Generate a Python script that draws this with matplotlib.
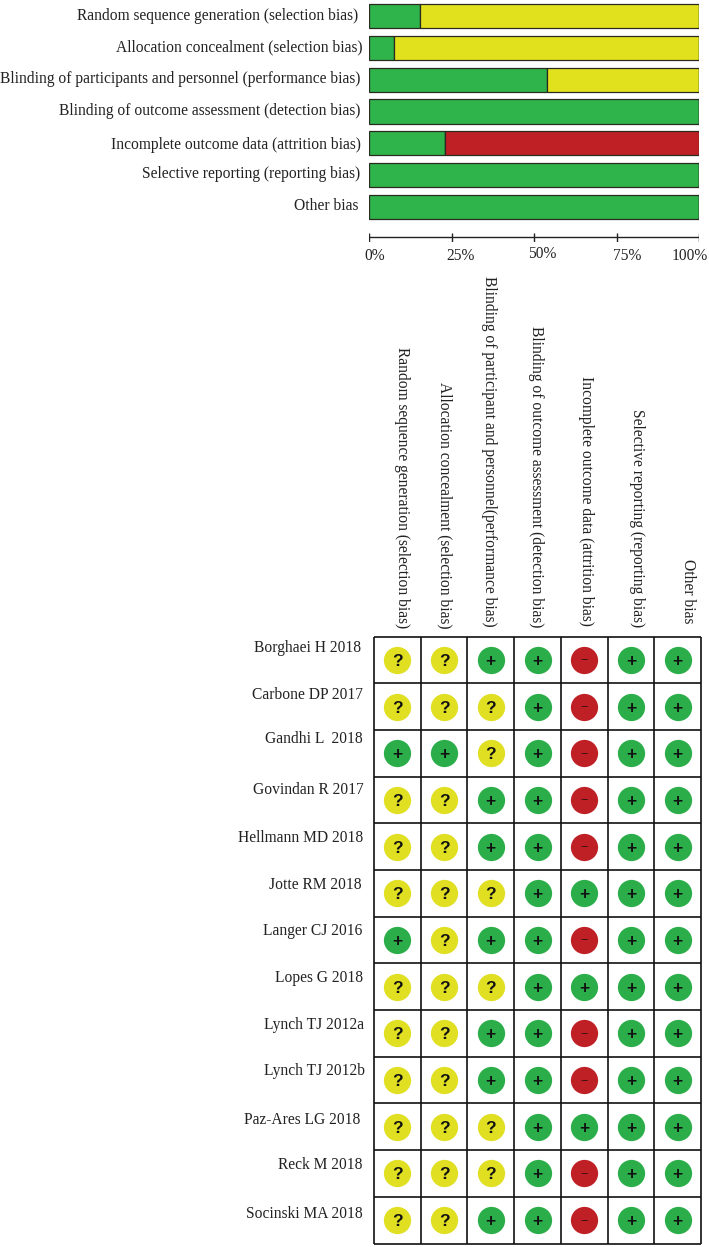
import matplotlib
matplotlib.use("Agg")
import matplotlib.pyplot as plt
from matplotlib.transforms import Affine2D

W, H = 709, 1247
plt.rcParams['font.family'] = ['Liberation Serif', 'DejaVu Serif']

domains = ["Random sequence generation (selection bias)",
           "Allocation concealment (selection bias)",
           "Blinding of participants and personnel (performance bias)",
           "Blinding of outcome assessment (detection bias)",
           "Incomplete outcome data (attrition bias)",
           "Selective reporting (reporting bias)",
           "Other bias"]
low_pct = [15.38, 7.69, 53.85, 100, 23.08, 100, 100]
unclear_pct = [84.62, 92.31, 46.15, 0, 0, 0, 0]
high_pct = [0, 0, 0, 0, 76.92, 0, 0]
tick_vals = [0, 25, 50, 75, 100]
tick_labels = ["0%", "25%", "50%", "75%", "100%"]

col_labels = ["Random sequence generation (selection bias)",
              "Allocation concealment (selection bias)",
              "Blinding of participant and personnel(performance bias)",
              "Blinding of outcome assessment (detection bias)",
              "Incomplete outcome data (attrition bias)",
              "Selective reporting (reporting bias)",
              "Other bias"]
studies = ["Borghaei H 2018", "Carbone DP 2017", "Gandhi L  2018", "Govindan R 2017",
           "Hellmann MD 2018", "Jotte RM 2018", "Langer CJ 2016", "Lopes G 2018",
           "Lynch TJ 2012a", "Lynch TJ 2012b", "Paz-Ares LG 2018", "Reck M 2018",
           "Socinski MA 2018"]
judgements = ["??++-++", "???+-++", "++?+-++", "??++-++", "??++-++", "???++++", "+?++-++",
              "???++++", "??++-++", "??++-++", "???++++", "???+-++", "??++-++"]

GREEN, YELLOW, RED = "#2FB34B", "#E1E11D", "#BE2025"
C_GREEN, C_YELLOW, C_RED = "#2BAE4A", "#E0DF22", "#BF2026"

# layout (pixels in the reference)
bar_label_right = [358, 362, 360, 360, 361, 360, 358]
bar_label_y = [16, 47, 79, 111, 145, 174, 206]
tick_label_x = [375, 461, 542, 627, 690]
tick_label_y = [256, 256, 254, 256, 256]
col_label_x = [403, 446, 490, 537, 587, 638, 689]
col_label_bottom = [628, 628, 627, 627, 626, 627, 623]
study_right = [361, 363, 363, 364, 363, 362, 362, 363, 364, 365, 360, 362, 363]
study_y = [648, 695, 739, 790, 838, 885, 931, 978, 1025, 1071, 1120, 1165, 1214]

fig = plt.figure(figsize=(W / 100, H / 100), dpi=100, facecolor="white")
px = Affine2D().scale(1, -1).translate(0, H)  # image pixels -> display

def axes_px(x0, y0, x1, y1):
    return fig.add_axes([x0 / W, 1 - y1 / H, (x1 - x0) / W, (y1 - y0) / H])

FS = 11.2

# ---- summary bars
ax = axes_px(369, 0, 699, 223)
ax.set_xlim(0, 100)
ax.set_ylim(6.5, -0.503)
ax.axis("off")
ypos = list(range(len(domains)))
edge = dict(edgecolor="#2a2a20", linewidth=0.9, height=0.76)
ax.barh(ypos, low_pct, color=GREEN, **edge)
ax.barh(ypos, unclear_pct, left=low_pct, color=YELLOW, **edge)
left_high = [a + b for a, b in zip(low_pct, unclear_pct)]
ax.barh(ypos, high_pct, left=left_high, color=RED, **edge)

# ---- percent axis
axx = axes_px(369, 232, 699, 242)
axx.set_xlim(0, 100)
axx.set_ylim(0, 1)
axx.axis("off")
axx.axhline(0.5, color="#222222", lw=1.0)
axx.vlines(tick_vals, 0.05, 0.95, color="#222222", lw=1.0)

for lab, x, y in zip(domains, bar_label_right, bar_label_y):
    fig.text(x, y, lab, transform=px, ha="right", va="center", fontsize=FS, color="#222222")
for lab, x, y in zip(tick_labels, tick_label_x, tick_label_y):
    fig.text(x, y, lab, transform=px, ha="center", va="center", fontsize=FS, color="#222222")

# ---- risk-of-bias matrix
axm = axes_px(374, 636.5, 701, 1243.5)
axm.set_xlim(0, len(col_labels))
axm.set_ylim(len(studies), 0)
axm.set_xticks([])
axm.set_yticks([])
axm.vlines(range(len(col_labels) + 1), 0, len(studies), color="#111111", lw=1.2, clip_on=False)
axm.hlines(range(len(studies) + 1), 0, len(col_labels), color="#111111", lw=1.2, clip_on=False)
for s in axm.spines.values():
    s.set_visible(False)

colors = {"+": C_GREEN, "?": C_YELLOW, "-": C_RED}
for r, row in enumerate(judgements):
    for c, j in enumerate(row):
        axm.scatter(c + 0.5, r + 0.5, s=385, color=colors[j], linewidths=0, zorder=3)
        if j == "?":
            axm.text(c + 0.5, r + 0.5, "?", ha="center", va="center_baseline", fontsize=12.5,
                     fontweight="bold", family="Liberation Sans", color="#111111", zorder=4)
        elif j == "+":
            axm.text(c + 0.5, r + 0.5, "+", ha="center", va="center_baseline", fontsize=12.5,
                     fontweight="bold", family="Liberation Sans", color="#111111", zorder=4)
        else:
            axm.text(c + 0.5, r + 0.5, "\u2212", ha="center", va="center_baseline", fontsize=9,
                     family="Liberation Sans", color="#3a1010", zorder=4)

for lab, x, y in zip(col_labels, col_label_x, col_label_bottom):
    fig.text(x - 1, y, lab, transform=px, rotation=270, ha="center", va="bottom", fontsize=FS,
             color="#222222")
for lab, x, y in zip(studies, study_right, study_y):
    fig.text(x, y, lab, transform=px, ha="right", va="center", fontsize=FS, color="#222222")

fig.savefig("out.png", dpi=100)
